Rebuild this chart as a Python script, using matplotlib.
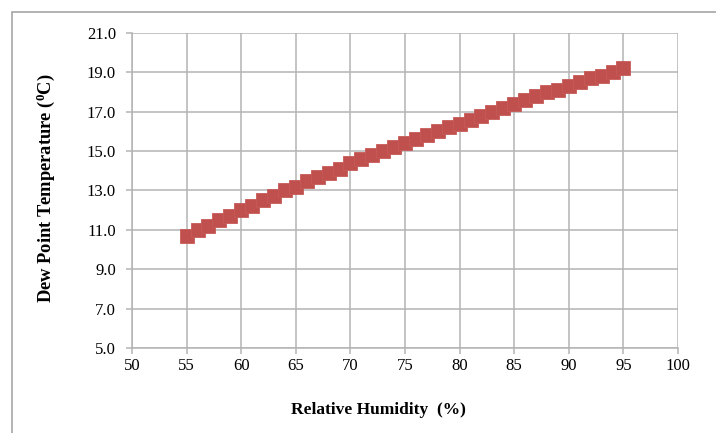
import matplotlib
matplotlib.use("Agg")
import matplotlib.pyplot as plt
from matplotlib.patches import Rectangle

# Relative humidity (%) and dew point (degC)
rh = [55, 56, 57, 58, 59, 60, 61, 62, 63, 64,
      65, 66, 67, 68, 69, 70, 71, 72, 73, 74,
      75, 76, 77, 78, 79, 80, 81, 82, 83, 84,
      85, 86, 87, 88, 89, 90, 91, 92, 93, 94, 95]
dew_point = [10.7, 11.0, 11.2, 11.5, 11.7, 12.0, 12.2, 12.5, 12.7, 13.0,
             13.2, 13.5, 13.7, 13.9, 14.1, 14.4, 14.6, 14.8, 15.0, 15.2,
             15.4, 15.6, 15.8, 16.0, 16.2, 16.4, 16.6, 16.8, 17.0, 17.2,
             17.4, 17.6, 17.8, 18.0, 18.1, 18.3, 18.5, 18.7, 18.8, 19.0, 19.2]

x_ticks = [50, 55, 60, 65, 70, 75, 80, 85, 90, 95, 100]
y_ticks = [5.0, 7.0, 9.0, 11.0, 13.0, 15.0, 17.0, 19.0, 21.0]

plt.rcParams['font.family'] = ['Liberation Serif', 'DejaVu Serif']

fig = plt.figure(figsize=(7.16, 4.33), dpi=100)
ax = fig.add_axes([0.1844, 0.1963, 0.7626, 0.7275])

grid_col = '#B4B4B4'
ax.plot(rh, dew_point, color='#C0504D', linewidth=2, marker='s', markersize=9.4,
        markerfacecolor='#C0504D', markeredgecolor='#C65A57', markeredgewidth=0.6,
        zorder=3)

ax.set_xlim(50, 100)
ax.set_ylim(5, 21)
ax.set_xticks(x_ticks)
ax.set_yticks(y_ticks)
ax.set_yticklabels(['%.1f' % v for v in y_ticks])
ax.grid(True, color=grid_col, linewidth=1.1)
ax.set_axisbelow(True)

for s in ['top', 'right']:
    ax.spines[s].set_visible(False)
for s in ['left', 'bottom']:
    ax.spines[s].set_color(grid_col)
    ax.spines[s].set_linewidth(1.1)

ax.tick_params(axis='both', colors=grid_col, labelcolor='black', labelsize=12,
               length=4.5, width=1.1)
ax.tick_params(axis='y', pad=7)
ax.tick_params(axis='x', pad=3)

fig.text(0.529, 0.053, 'Relative Humidity  (%)', ha='center', va='center',
         fontsize=12.5, fontweight='bold')
fig.text(0.064, 1 - 188 / 433, r'Dew Point Temperature ($\mathregular{^0}$C)',
         ha='center', va='center', rotation=90, fontsize=13.3, fontweight='bold')

# outer chart frame
fig.patches.append(Rectangle((12 / 716, -0.2), 1.5, 1 - 12 / 433 + 0.2,
                             transform=fig.transFigure, fill=False,
                             edgecolor='#A6A6A6', linewidth=1.2))

fig.savefig('out.png', dpi=100)
